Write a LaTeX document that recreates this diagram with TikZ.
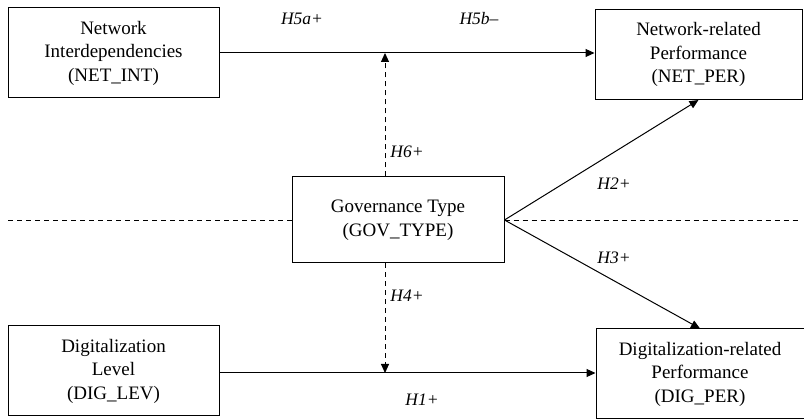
\documentclass[tikz,border=0pt]{standalone}
\usepackage{fontspec}
\setmainfont{Liberation Serif}
\usetikzlibrary{arrows.meta}
\begin{document}
\begin{tikzpicture}[x=1pt,y=-1pt,
  box/.style={draw,line width=1pt,align=center,inner sep=0pt,
    font=\fontsize{19}{23.5}\selectfont},
  lbl/.style={font=\fontsize{17.5}{18}\selectfont\itshape},
  arr/.style={line width=1pt,-{Triangle[length=9pt,width=8pt]}},
  darr/.style={arr,dash pattern=on 5pt off 4pt},
  dline/.style={line width=0.8pt,dash pattern=on 5pt off 4pt}]
\useasboundingbox (0,0) rectangle (804,419);
\node[box,minimum width=211pt,minimum height=90pt] (netint) at (113.5,53)
  {Network\\Interdependencies\\(NET\_INT)};
\node[box,minimum width=207pt,minimum height=90pt] (netper) at (698.5,54.5)
  {Network-related\\Performance\\(NET\_PER)};
\node[box,minimum width=212pt,minimum height=86pt] (gov) at (398,220)
  {Governance Type\\(GOV\_TYPE)};
\node[box,minimum width=211pt,minimum height=90pt] (diglev) at (113.5,371)
  {Digitalization\\Level\\(DIG\_LEV)};
\node[box,minimum width=208pt,minimum height=90pt] (digper) at (700,374)
  {Digitalization-related\\Performance\\(DIG\_PER)};
\coordinate (top) at (385,53);
\coordinate (bot) at (385,373);
\coordinate (dl) at (8,220);
\coordinate (dr) at (801,220);
\draw[arr] (netint.east |- top) -- (netper.west |- top);
\draw[arr] (diglev.east |- bot) -- (digper.west |- bot);
\draw[darr] (gov.north -| top) -- (top);
\draw[darr] (gov.south -| bot) -- (bot);
\draw[arr] (gov.east) -- (netper.south);
\draw[arr] (gov.east) -- (digper.north);
\draw[dline] (dl) -- (gov.west);
\draw[dline] (gov.east) -- (dr);
\node[lbl] (h5a) at (302,19) {H5a+};
\node[lbl] (h5b) at (479,19) {H5b–};
\node[lbl] (h6) at (407,152) {H6+};
\node[lbl] (h2) at (614,184) {H2+};
\node[lbl] (h3) at (614,258) {H3+};
\node[lbl] (h4) at (407,296) {H4+};
\node[lbl] (h1) at (422,400) {H1+};
\end{tikzpicture}
\end{document}
